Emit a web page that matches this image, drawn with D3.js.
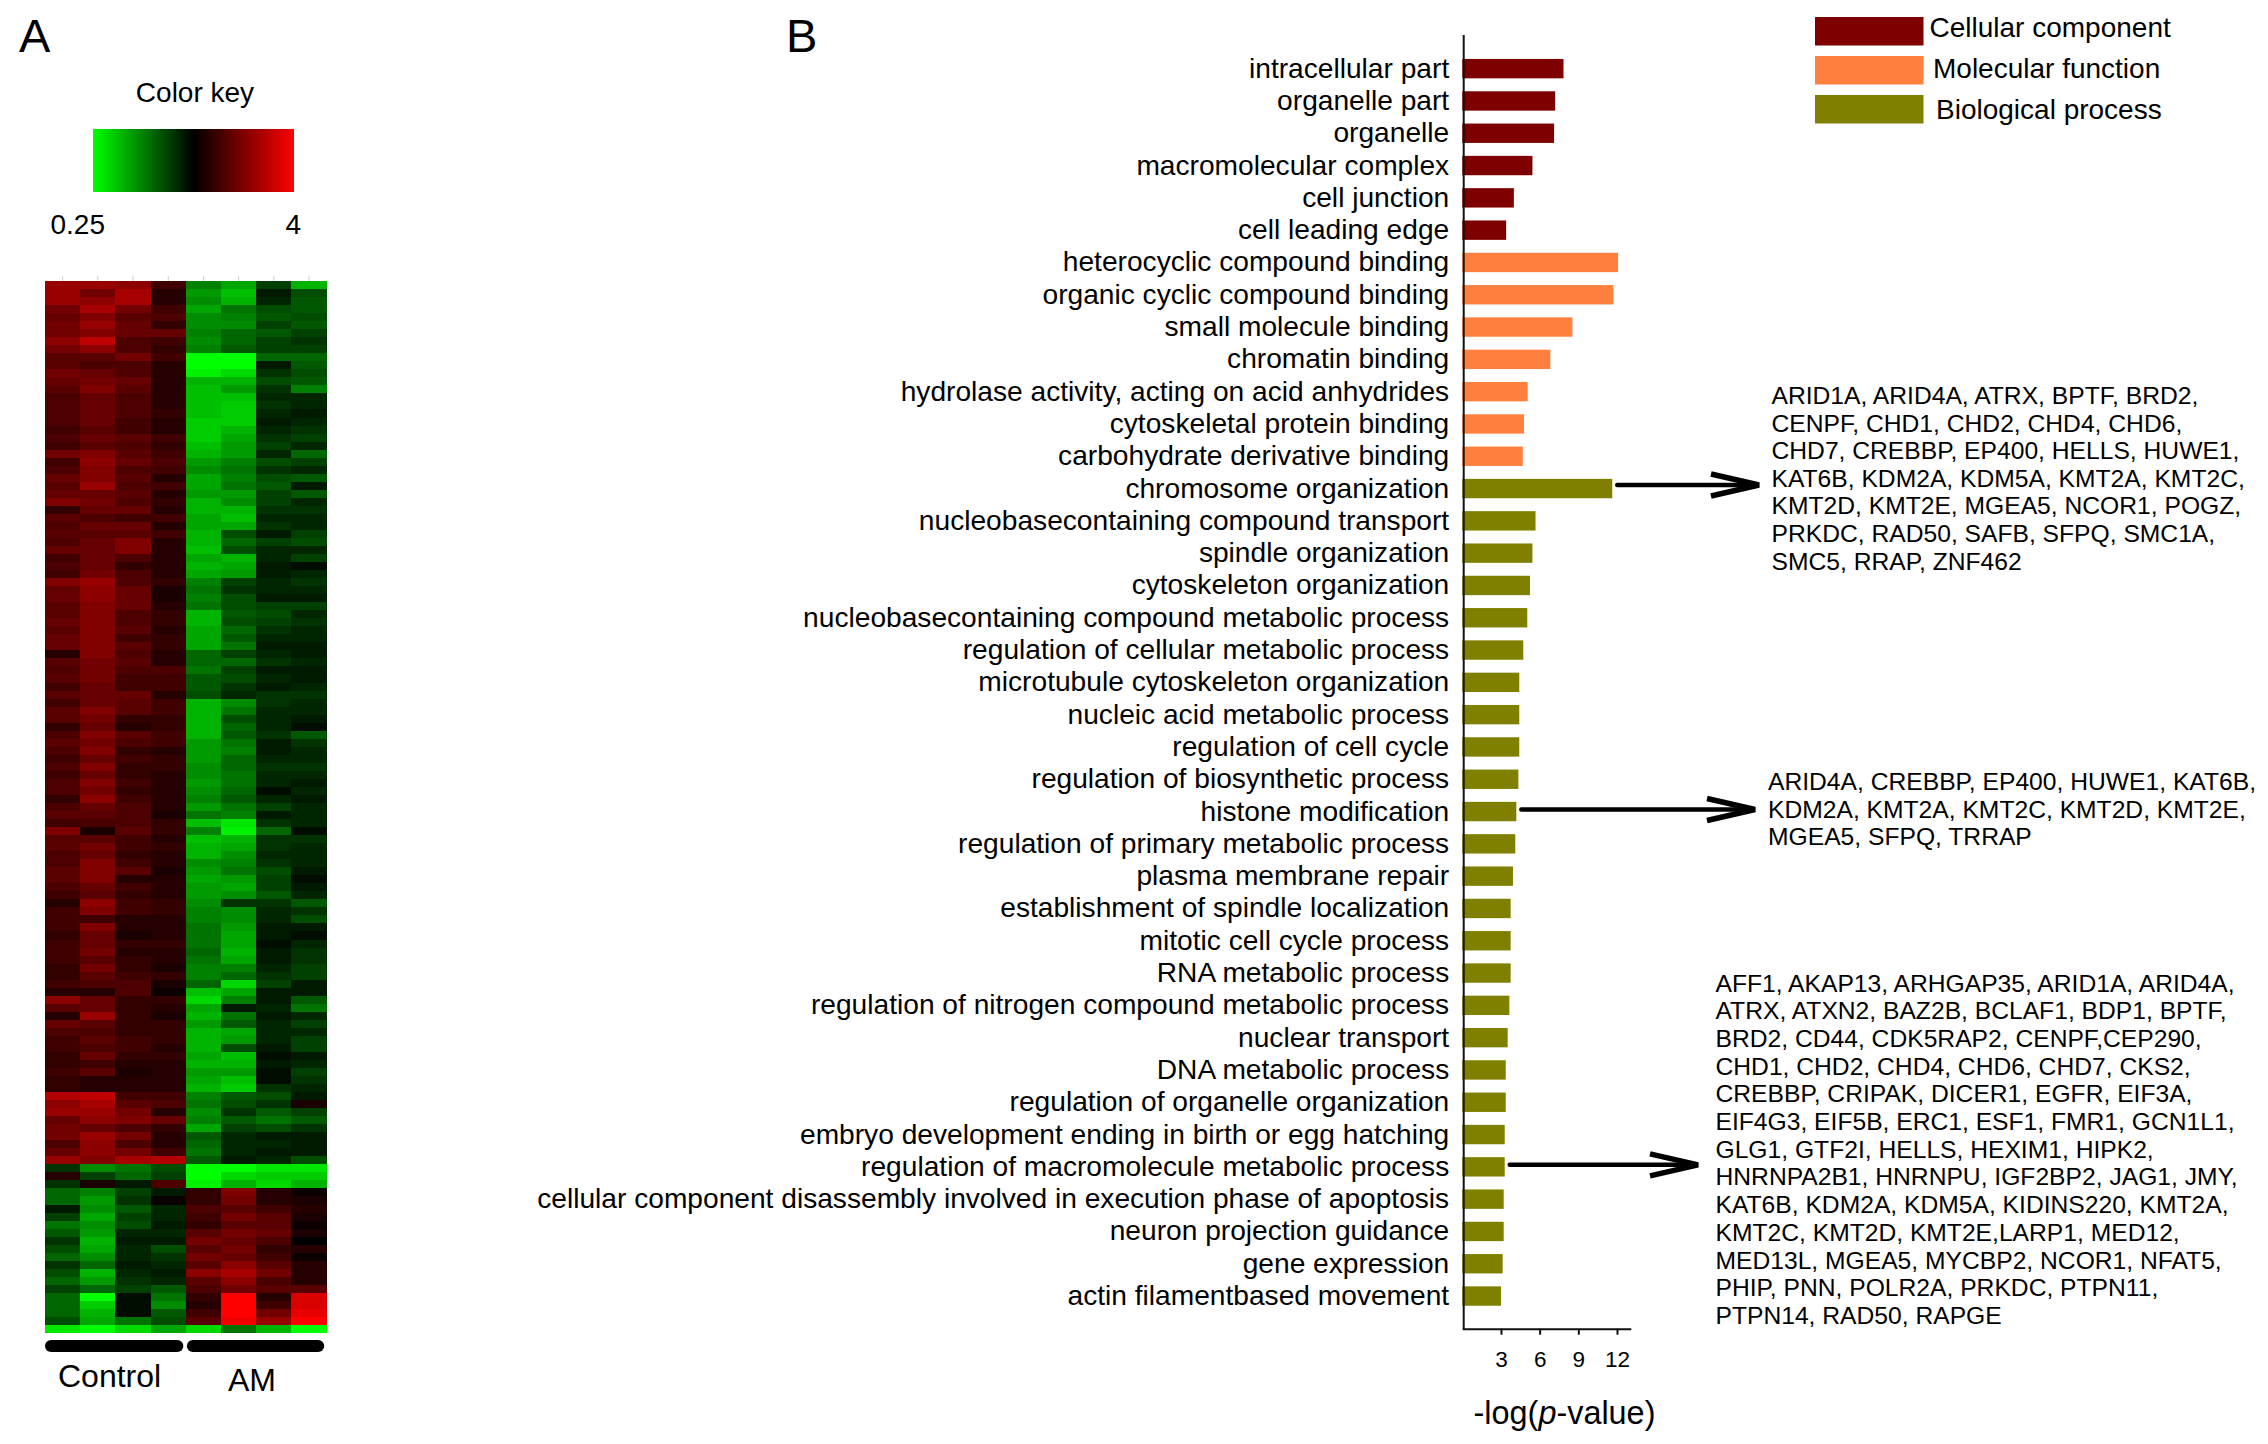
<!DOCTYPE html>
<html>
<head>
<meta charset="utf-8">
<script src="https://cdn.jsdelivr.net/npm/d3@7/dist/d3.min.js"></script>
<style>
html,body{margin:0;padding:0;background:#fff}
svg{display:block}
text{font-family:"Liberation Sans",Arial,sans-serif;fill:#000}
</style>
</head>
<body>
<svg id="chart" width="2268" height="1444" viewBox="0 0 2268 1444"></svg>
<script>
// ---------- Panel B data ----------
const termLabels = ["intracellular part","organelle part","organelle","macromolecular complex","cell junction","cell leading edge",
"heterocyclic compound binding","organic cyclic compound binding","small molecule binding","chromatin binding","hydrolase activity, acting on acid anhydrides","cytoskeletal protein binding","carbohydrate derivative binding",
"chromosome organization","nucleobasecontaining compound transport","spindle organization","cytoskeleton organization","nucleobasecontaining compound metabolic process","regulation of cellular metabolic process","microtubule cytoskeleton organization","nucleic acid metabolic process","regulation of cell cycle","regulation of biosynthetic process","histone modification","regulation of primary metabolic process","plasma membrane repair","establishment of spindle localization","mitotic cell cycle process","RNA metabolic process","regulation of nitrogen compound metabolic process","nuclear transport","DNA metabolic process","regulation of organelle organization","embryo development ending in birth or egg hatching","regulation of macromolecule metabolic process","cellular component disassembly involved in execution phase of apoptosis","neuron projection guidance","gene expression","actin filamentbased movement"];
const termValues = [7.85,7.2,7.12,5.44,4.0,3.4,
12.08,11.72,8.54,6.83,5.07,4.78,4.69,
11.63,5.68,5.44,5.25,5.04,4.73,4.42,4.42,4.42,4.35,4.19,4.11,3.93,3.75,3.75,3.75,3.65,3.52,3.37,3.37,3.29,3.29,3.21,3.21,3.13,3.0];
const termGroups = ["CC","CC","CC","CC","CC","CC","MF","MF","MF","MF","MF","MF","MF",
"BP","BP","BP","BP","BP","BP","BP","BP","BP","BP","BP","BP","BP","BP","BP","BP","BP","BP","BP","BP","BP","BP","BP","BP","BP","BP"];
const legendKeys = ["CC","MF","BP"];
const legendLabels = ["Cellular component","Molecular function","Biological process"];
const legendColors = ["#7f0000","#ff7f3f","#808000"];
const xTicks = [3,6,9,12];
const chromosomeGenes = ["ARID1A, ARID4A, ATRX, BPTF, BRD2,","CENPF, CHD1, CHD2, CHD4, CHD6,","CHD7, CREBBP, EP400, HELLS, HUWE1,","KAT6B, KDM2A, KDM5A, KMT2A, KMT2C,","KMT2D, KMT2E, MGEA5, NCOR1, POGZ,","PRKDC, RAD50, SAFB, SFPQ, SMC1A,","SMC5, RRAP, ZNF462"];
const histoneGenes = ["ARID4A, CREBBP, EP400, HUWE1, KAT6B,","KDM2A, KMT2A, KMT2C, KMT2D, KMT2E,","MGEA5, SFPQ, TRRAP"];
const macromoleculeGenes = ["AFF1, AKAP13, ARHGAP35, ARID1A, ARID4A,","ATRX, ATXN2, BAZ2B, BCLAF1, BDP1, BPTF,","BRD2, CD44, CDK5RAP2, CENPF,CEP290,","CHD1, CHD2, CHD4, CHD6, CHD7, CKS2,","CREBBP, CRIPAK, DICER1, EGFR, EIF3A,","EIF4G3, EIF5B, ERC1, ESF1, FMR1, GCN1L1,","GLG1, GTF2I, HELLS, HEXIM1, HIPK2,","HNRNPA2B1, HNRNPU, IGF2BP2, JAG1, JMY,","KAT6B, KDM2A, KDM5A, KIDINS220, KMT2A,","KMT2C, KMT2D, KMT2E,LARP1, MED12,","MED13L, MGEA5, MYCBP2, NCOR1, NFAT5,","PHIP, PNN, POLR2A, PRKDC, PTPN11,","PTPN14, RAD50, RAPGE"];

// ---------- Panel A data (tenths of log2 ratio, one value per heat-map row) ----------
const sampleIds = ["C1","C2","C3","C4","A1","A2","A3","A4"];
const heatC1 = [12,12,12,9,8,9,9,11,9,7,7,9,8,7,6,6,6,6,5,6,5,9,5,6,8,7,8,10,4,7,6,7,6,
8,5,6,5,10,8,8,7,7,8,7,8,8,3,7,6,7,5,7,5,7,7,4,6,7,6,5,6,5,6,6,4,6,
7,5,10,7,7,6,6,7,7,6,5,3,5,5,5,4,5,5,5,4,4,5,3,11,7,3,8,6,5,5,4,4,5,
4,4,14,11,12,8,9,9,6,8,12,-4,3,-4,-8,-8,-2,-5,-9,-7,-4,-6,-8,-4,-6,-8,-5,-8,-8,-8,-6,-18];
const heatC2 = [12,9,11,13,10,12,10,15,11,7,6,8,9,10,8,8,8,8,7,8,7,10,11,10,10,12,8,9,8,6,8,7,8,
8,8,8,9,12,11,11,10,10,10,10,10,10,10,9,9,9,8,8,8,10,9,8,10,9,10,8,10,8,10,9,11,8,
7,6,2,7,9,8,10,10,10,8,7,11,10,5,10,8,8,9,7,9,7,6,3,8,8,12,7,6,7,6,8,5,7,
3,3,15,13,12,11,8,12,11,11,10,-11,-5,2,-10,-12,-11,-13,-11,-12,-14,-13,-11,-8,-14,-12,-8,-20,-16,-14,-13,-20];
const heatC3 = [11,13,13,9,7,8,8,6,6,9,6,6,8,7,6,6,6,5,5,7,6,7,8,6,7,6,7,6,8,5,8,7,10,
10,6,4,6,6,8,8,8,6,6,7,5,7,6,7,6,5,5,8,7,7,4,3,7,6,4,5,4,4,5,4,5,6,
6,6,7,5,5,4,5,7,3,5,4,5,5,3,3,2,4,3,4,4,5,6,6,4,4,4,4,4,5,5,4,3,2,
3,3,5,7,9,10,6,9,6,9,13,-9,-8,-2,-5,-4,-7,-5,-6,-3,-2,-3,-3,-2,-3,-4,-5,-1,-1,-1,-9,-17];
const heatC4 = [5,3,3,5,6,4,8,5,4,5,3,3,3,3,3,3,4,3,3,5,4,5,6,5,3,5,3,4,3,5,3,5,3,
3,3,3,3,4,2,2,3,4,4,3,4,4,3,3,6,5,5,3,5,5,4,4,5,5,3,4,4,3,3,3,3,3,
2,4,4,3,4,3,3,2,3,3,3,4,4,3,3,3,4,3,3,2,4,2,1,4,3,2,4,4,4,3,4,3,3,
3,3,5,6,3,8,4,3,3,5,14,-6,-5,6,-2,1,-3,-3,-2,-3,-2,-6,-4,-3,-2,-3,-7,-9,-11,-7,-6,-13];
const heatA1 = [-10,-12,-11,-13,-11,-11,-10,-11,-10,-20,-20,-19,-14,-15,-15,-15,-15,-16,-16,-16,-15,-14,-12,-11,-13,-13,-12,-14,-14,-13,-13,-14,-14,
-15,-13,-14,-13,-10,-9,-10,-9,-14,-14,-13,-13,-13,-8,-8,-9,-7,-7,-6,-14,-14,-14,-14,-14,-12,-12,-12,-11,-11,-12,-11,-10,-12,
-9,-15,-10,-15,-14,-14,-11,-12,-13,-12,-12,-11,-10,-10,-9,-9,-9,-8,-9,-10,-10,-8,-15,-17,-13,-14,-12,-14,-14,-14,-13,-14,-12,
-13,-14,-10,-9,-11,-10,-13,-7,-8,-9,-7,-20,-20,-19,4,4,6,5,4,7,9,7,9,7,11,7,6,4,3,5,7,-17];
const heatA2 = [-13,-15,-14,-9,-10,-11,-8,-8,-7,-20,-20,-17,-14,-12,-15,-16,-16,-16,-14,-13,-12,-12,-10,-9,-10,-9,-12,-11,-14,-15,-13,-6,-8,
-6,-14,-13,-12,-5,-4,-6,-6,-7,-6,-8,-7,-9,-5,-8,-5,-6,-4,-3,-11,-9,-6,-8,-7,-9,-10,-8,-8,-9,-9,-8,-7,-9,
-10,-18,-19,-14,-13,-11,-10,-9,-12,-13,-11,-4,-11,-11,-12,-13,-13,-14,-13,-10,-8,-17,-13,-10,-2,-9,-7,-13,-12,-6,-15,-14,-12,
-15,-16,-7,-6,-4,-7,-5,-3,-3,-3,-2,-20,-17,-14,10,9,7,9,7,9,8,9,8,11,13,11,9,20,20,20,19,-9];
const heatA3 = [-5,-2,-3,-6,-7,-5,-7,-5,-5,-8,-2,-4,-6,-4,-3,-4,-3,-2,-3,-4,-5,-3,-6,-4,-6,-7,-5,-5,-4,-3,-4,-2,-5,
-3,-3,-2,-2,-3,-3,-2,-5,-6,-5,-4,-3,-2,-3,-4,-2,-3,-2,-4,-4,-3,-3,-3,-4,-2,-2,-3,-4,-3,-3,-1,-3,-5,
-2,-4,-8,-4,-4,-3,-4,-6,-5,-5,-7,-4,-3,-3,-2,-2,-1,-2,-2,-3,-4,-5,-2,-2,-3,-2,-3,-3,-3,-2,-1,-2,-1,
-1,-4,-6,-4,-7,-9,-6,-2,-3,-2,-3,-18,-16,-17,3,3,5,7,7,8,6,4,5,7,9,6,7,3,5,9,12,-14];
const heatA4 = [-14,-6,-7,-7,-6,-7,-5,-4,-5,-8,-7,-6,-7,-10,-3,-3,-2,-3,-4,-5,-3,-8,-5,-3,-7,-2,-7,-3,-4,-3,-3,-5,-6,
-3,-5,-1,-3,-4,-3,-2,-5,-3,-4,-3,-3,-2,-2,-3,-2,-2,-3,-4,-3,-3,-2,-1,-7,-4,-3,-3,-4,-3,-2,-3,-2,-3,
-3,-3,-1,-4,-3,-3,-3,-2,-1,-2,-3,-7,-4,-6,-2,-1,-3,-4,-4,-5,-5,-2,-2,-7,-9,-3,-5,-3,-5,-5,-2,-3,-5,
-4,-3,-2,2,-5,-7,-4,-2,-2,-2,-6,-18,-16,-14,1,2,3,2,1,2,0,3,1,3,3,3,7,17,17,18,20,-20];
const heatColumns = [heatC1,heatC2,heatC3,heatC4,heatA1,heatA2,heatA3,heatA4];
const heatGroups = ["Control","AM"];

// ---------- Scales ----------
const svg = d3.select("#chart");
const color = d3.scaleLinear().domain([-20,0,20]).range(["#00ff00","#000000","#ff0000"]).clamp(true);
const nRows = d3.max(heatColumns, c => c.length);
const heatX = d3.scaleBand().domain(sampleIds).range([45,326.7]);
const heatY = d3.scaleBand().domain(d3.range(nRows)).range([281,1333]);

// ---------- Panel letters ----------
svg.append("text").attr("x",19).attr("y",52).attr("font-size",47).text("A");
svg.append("text").attr("x",786).attr("y",52).attr("font-size",47).text("B");

// ---------- Colour key ----------
svg.append("text").attr("x",195).attr("y",102).attr("text-anchor","middle").attr("font-size",28).text("Color key");
const grad = svg.append("defs").append("linearGradient").attr("id","key");
grad.selectAll("stop").data([-20,-10,0,10,20]).join("stop")
  .attr("offset",d => (d+20)/40).attr("stop-color",d => color(d));
svg.append("rect").attr("x",93).attr("y",129).attr("width",201).attr("height",63).attr("fill","url(#key)");
svg.append("text").attr("x",50.5).attr("y",234).attr("font-size",28).text("0.25");
svg.append("text").attr("x",285.5).attr("y",234).attr("font-size",28).text("4");

// ---------- Heat map ----------
const heatG = svg.append("g");
heatColumns.forEach((col,ci) => {
  heatG.append("g").selectAll("rect").data(col).join("rect")
    .attr("x",heatX(sampleIds[ci]))
    .attr("y",(d,i) => heatY(i))
    .attr("width",heatX.bandwidth()+0.4)
    .attr("height",heatY.bandwidth()+0.4)
    .attr("fill",d => color(d))
    .attr("shape-rendering","crispEdges");
});
const heatTop = svg.append("g").attr("transform","translate(0,281)")
  .call(d3.axisTop(heatX).tickSize(5).tickFormat(""));
heatTop.select(".domain").remove();
heatTop.selectAll("line").attr("stroke","#d0d0d0").attr("stroke-width",1);

// group bars beneath the heat map
const groupSpans = [[heatX("C1"),heatX("C4")+heatX.bandwidth()-2.5],[heatX("A1")+1,heatX("A4")+heatX.bandwidth()-2.5]];
svg.selectAll("line.grp").data(groupSpans).join("line").attr("class","grp")
  .attr("x1",d => d[0]+6).attr("x2",d => d[1]-6)
  .attr("y1",1346).attr("y2",1346)
  .attr("stroke","#000").attr("stroke-width",12).attr("stroke-linecap","round");
svg.append("text").attr("x",58).attr("y",1387).attr("font-size",32).text(heatGroups[0]);
svg.append("text").attr("x",228).attr("y",1391).attr("font-size",32).text(heatGroups[1]);

// ---------- Bar chart ----------
const x = d3.scaleLinear().domain([0,13.07]).range([1462.3,1630.8]);
const y = d3.scaleBand().domain(termLabels).range([52.5,1312.2]).paddingInner(0.4).paddingOuter(0.2);
const groupColor = d3.scaleOrdinal().domain(legendKeys).range(legendColors);

svg.append("g").selectAll("rect").data(termLabels).join("rect")
  .attr("x",x(0))
  .attr("y",d => y(d))
  .attr("width",(d,i) => x(termValues[i])-x(0))
  .attr("height",y.bandwidth())
  .attr("fill",(d,i) => groupColor(termGroups[i]));

const yAxis = svg.append("g").attr("transform","translate(1463.7,0)")
  .call(d3.axisLeft(y).tickSize(0).tickPadding(14.5));
yAxis.select(".domain").remove();
yAxis.selectAll("text").attr("font-size",28.15).attr("font-family",'"Liberation Sans",Arial,sans-serif');
svg.append("line").attr("x1",1463.7).attr("x2",1463.7).attr("y1",35).attr("y2",1329.5)
  .attr("stroke","#111").attr("stroke-width",2);

const xAxis = svg.append("g").attr("transform","translate(0,1328.7)")
  .call(d3.axisBottom(x).tickValues(xTicks).tickSize(6).tickPadding(16).tickSizeOuter(0));
xAxis.select(".domain").attr("stroke","#111").attr("stroke-width",2);
xAxis.selectAll("line").attr("stroke","#111").attr("stroke-width",2);
xAxis.selectAll("text").attr("font-size",22.5).attr("font-family",'"Liberation Sans",Arial,sans-serif');

const xLabel = svg.append("text").attr("x",1564.5).attr("y",1424).attr("text-anchor","middle").attr("font-size",32.4);
xLabel.append("tspan").text("-log(");
xLabel.append("tspan").attr("font-style","italic").text("p");
xLabel.append("tspan").text("-value)");

// ---------- Legend ----------
const legendBoxY = [17,56,95];
const legendTextX = [1929.5,1933,1936];
const legendTextY = [37,78,119];
legendLabels.forEach((t,i) => {
  svg.append("rect").attr("x",1815).attr("y",legendBoxY[i]).attr("width",108.5).attr("height",28.5).attr("fill",legendColors[i]);
  svg.append("text").attr("x",legendTextX[i]).attr("y",legendTextY[i]).attr("font-size",28).text(t);
});

// ---------- Annotations ----------
const annotations = [
  {term:"chromosome organization", tip:1759, lift:3.5, lines:chromosomeGenes, tx:1771.5, ty:404, dy:27.6},
  {term:"histone modification", tip:1755, lift:2, lines:histoneGenes, tx:1768, ty:790, dy:27.5},
  {term:"regulation of macromolecule metabolic process", tip:1698, lift:2, lines:macromoleculeGenes, tx:1715.5, ty:991.5, dy:27.7}
];
annotations.forEach(a => {
  const i = termLabels.indexOf(a.term);
  const ay = y(a.term) + y.bandwidth()/2 - a.lift;
  const g = svg.append("g").attr("fill","none").attr("stroke","#000");
  g.append("line").attr("x1",x(termValues[i])+5).attr("x2",a.tip-4).attr("y1",ay).attr("y2",ay)
    .attr("stroke-width",4.5).attr("stroke-linecap","round");
  g.append("path").attr("d",`M${a.tip-48},${ay-11}L${a.tip},${ay}L${a.tip-48},${ay+11}`)
    .attr("stroke-width",5.5).attr("stroke-linejoin","miter");
  svg.append("g").selectAll("text").data(a.lines).join("text")
    .attr("x",a.tx).attr("y",(d,k) => a.ty + k*a.dy)
    .attr("font-size",24.65).text(d => d);
});
</script>
</body>
</html>
